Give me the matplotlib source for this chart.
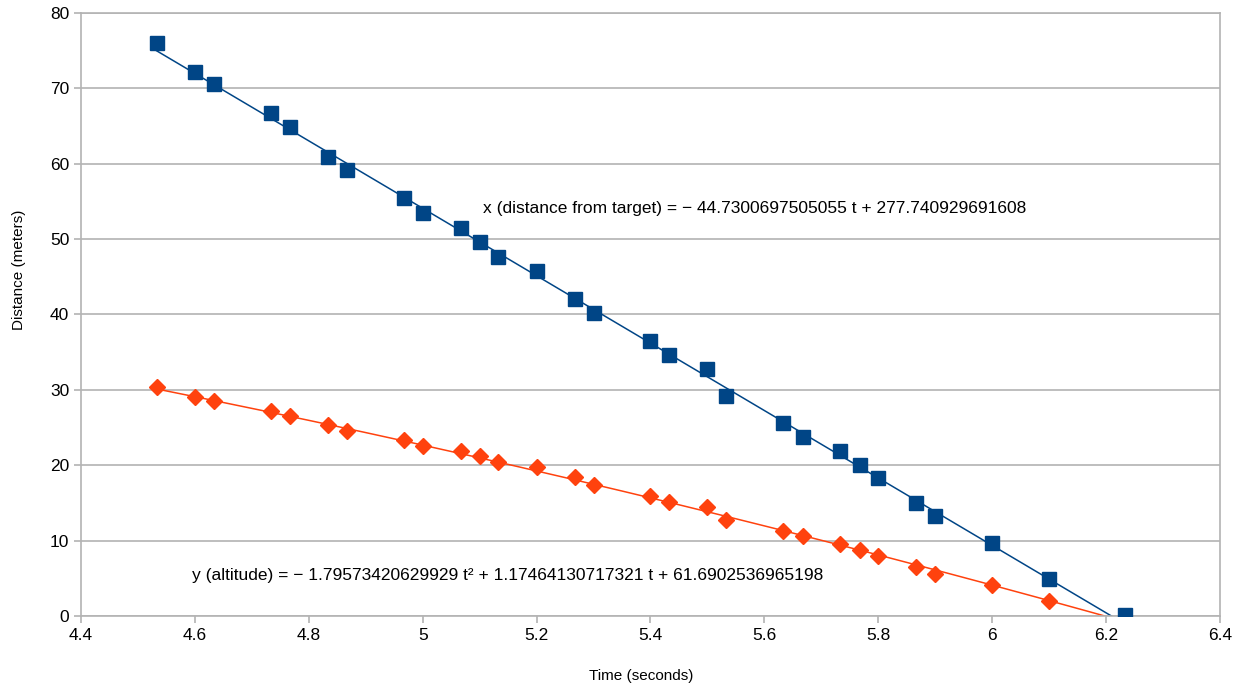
import numpy as np
import matplotlib
matplotlib.use('Agg')
import matplotlib.pyplot as plt

plt.rcParams['font.family'] = ['Liberation Sans', 'DejaVu Sans']

# Tiempos (s) y posiciones medidas
t_x = [4.533, 4.6, 4.633, 4.733, 4.767, 4.833, 4.867, 4.967, 5.0, 5.067,
       5.1, 5.133, 5.2, 5.267, 5.3, 5.4, 5.433, 5.5, 5.533, 5.633,
       5.667, 5.733, 5.767, 5.8, 5.867, 5.9, 6.0, 6.1, 6.233]
dist_x = [76.0, 72.2, 70.6, 66.7, 64.9, 60.9, 59.2, 55.5, 53.5, 51.5,
          49.6, 47.6, 45.8, 42.1, 40.2, 36.5, 34.6, 32.8, 29.2, 25.6,
          23.7, 21.9, 20.0, 18.3, 15.0, 13.3, 9.7, 4.9, 0.1]

t_y = t_x[:-1]
alt_y = [30.4, 29.1, 28.5, 27.2, 26.5, 25.3, 24.5, 23.3, 22.5, 21.9,
         21.2, 20.4, 19.7, 18.4, 17.4, 15.9, 15.1, 14.4, 12.7, 11.3,
         10.6, 9.6, 8.7, 8.0, 6.5, 5.6, 4.1, 2.0]

# Coeficientes de las líneas de tendencia
coef_x = [-44.7300697505055, 277.740929691608]
coef_y = [-1.79573420629929, 1.17464130717321, 61.6902536965198]

label_x = 'x (distance from target) = \u2212 44.7300697505055 t + 277.740929691608'
label_y = 'y (altitude) = \u2212 1.79573420629929 t\u00b2 + 1.17464130717321 t + 61.6902536965198'

blue = '#004586'
orange = '#ff420e'
gray = '#b3b3b3'

fig = plt.figure(figsize=(12.42, 6.88), dpi=100)
ax = fig.add_axes([0.0652, 0.1047, 0.9171, 0.8764])

tt = np.linspace(min(t_x), max(t_x), 300)
ax.plot(tt, np.polyval(coef_x, tt), color=blue, lw=1.1, zorder=2)
ax.plot(tt, np.polyval(coef_y, tt), color=orange, lw=1.1, zorder=2)
ax.plot(t_x, dist_x, 's', color=blue, markersize=10, zorder=3)
ax.plot(t_y, alt_y, 'D', color=orange, markersize=7.8, zorder=3)

ax.set_xlim(4.4, 6.4)
ax.set_ylim(0, 80)
ax.set_xticks(np.arange(4.4, 6.41, 0.2))
ax.set_xticklabels(['4.4', '4.6', '4.8', '5', '5.2', '5.4', '5.6', '5.8', '6', '6.2', '6.4'])
ax.set_yticks(range(0, 81, 10))
ax.grid(axis='y', color=gray, lw=1.2)
ax.set_axisbelow(True)
for s in ax.spines.values():
    s.set_color(gray)
    s.set_linewidth(1.2)
ax.tick_params(colors=gray, labelcolor='black', labelsize=12.5, length=5, width=1.2)

ax.set_xlabel('Time (seconds)', fontsize=11)
ax.set_ylabel('Distance (meters)', fontsize=11)
ax.xaxis.set_label_coords(0.492, -0.088)
ax.yaxis.set_label_coords(-0.048, 0.574)

ax.text(5.106, 54.1, label_x, fontsize=12.5, va='center')
ax.text(4.595, 5.4, label_y, fontsize=12.5, va='center')

fig.savefig('out.png', dpi=100)
